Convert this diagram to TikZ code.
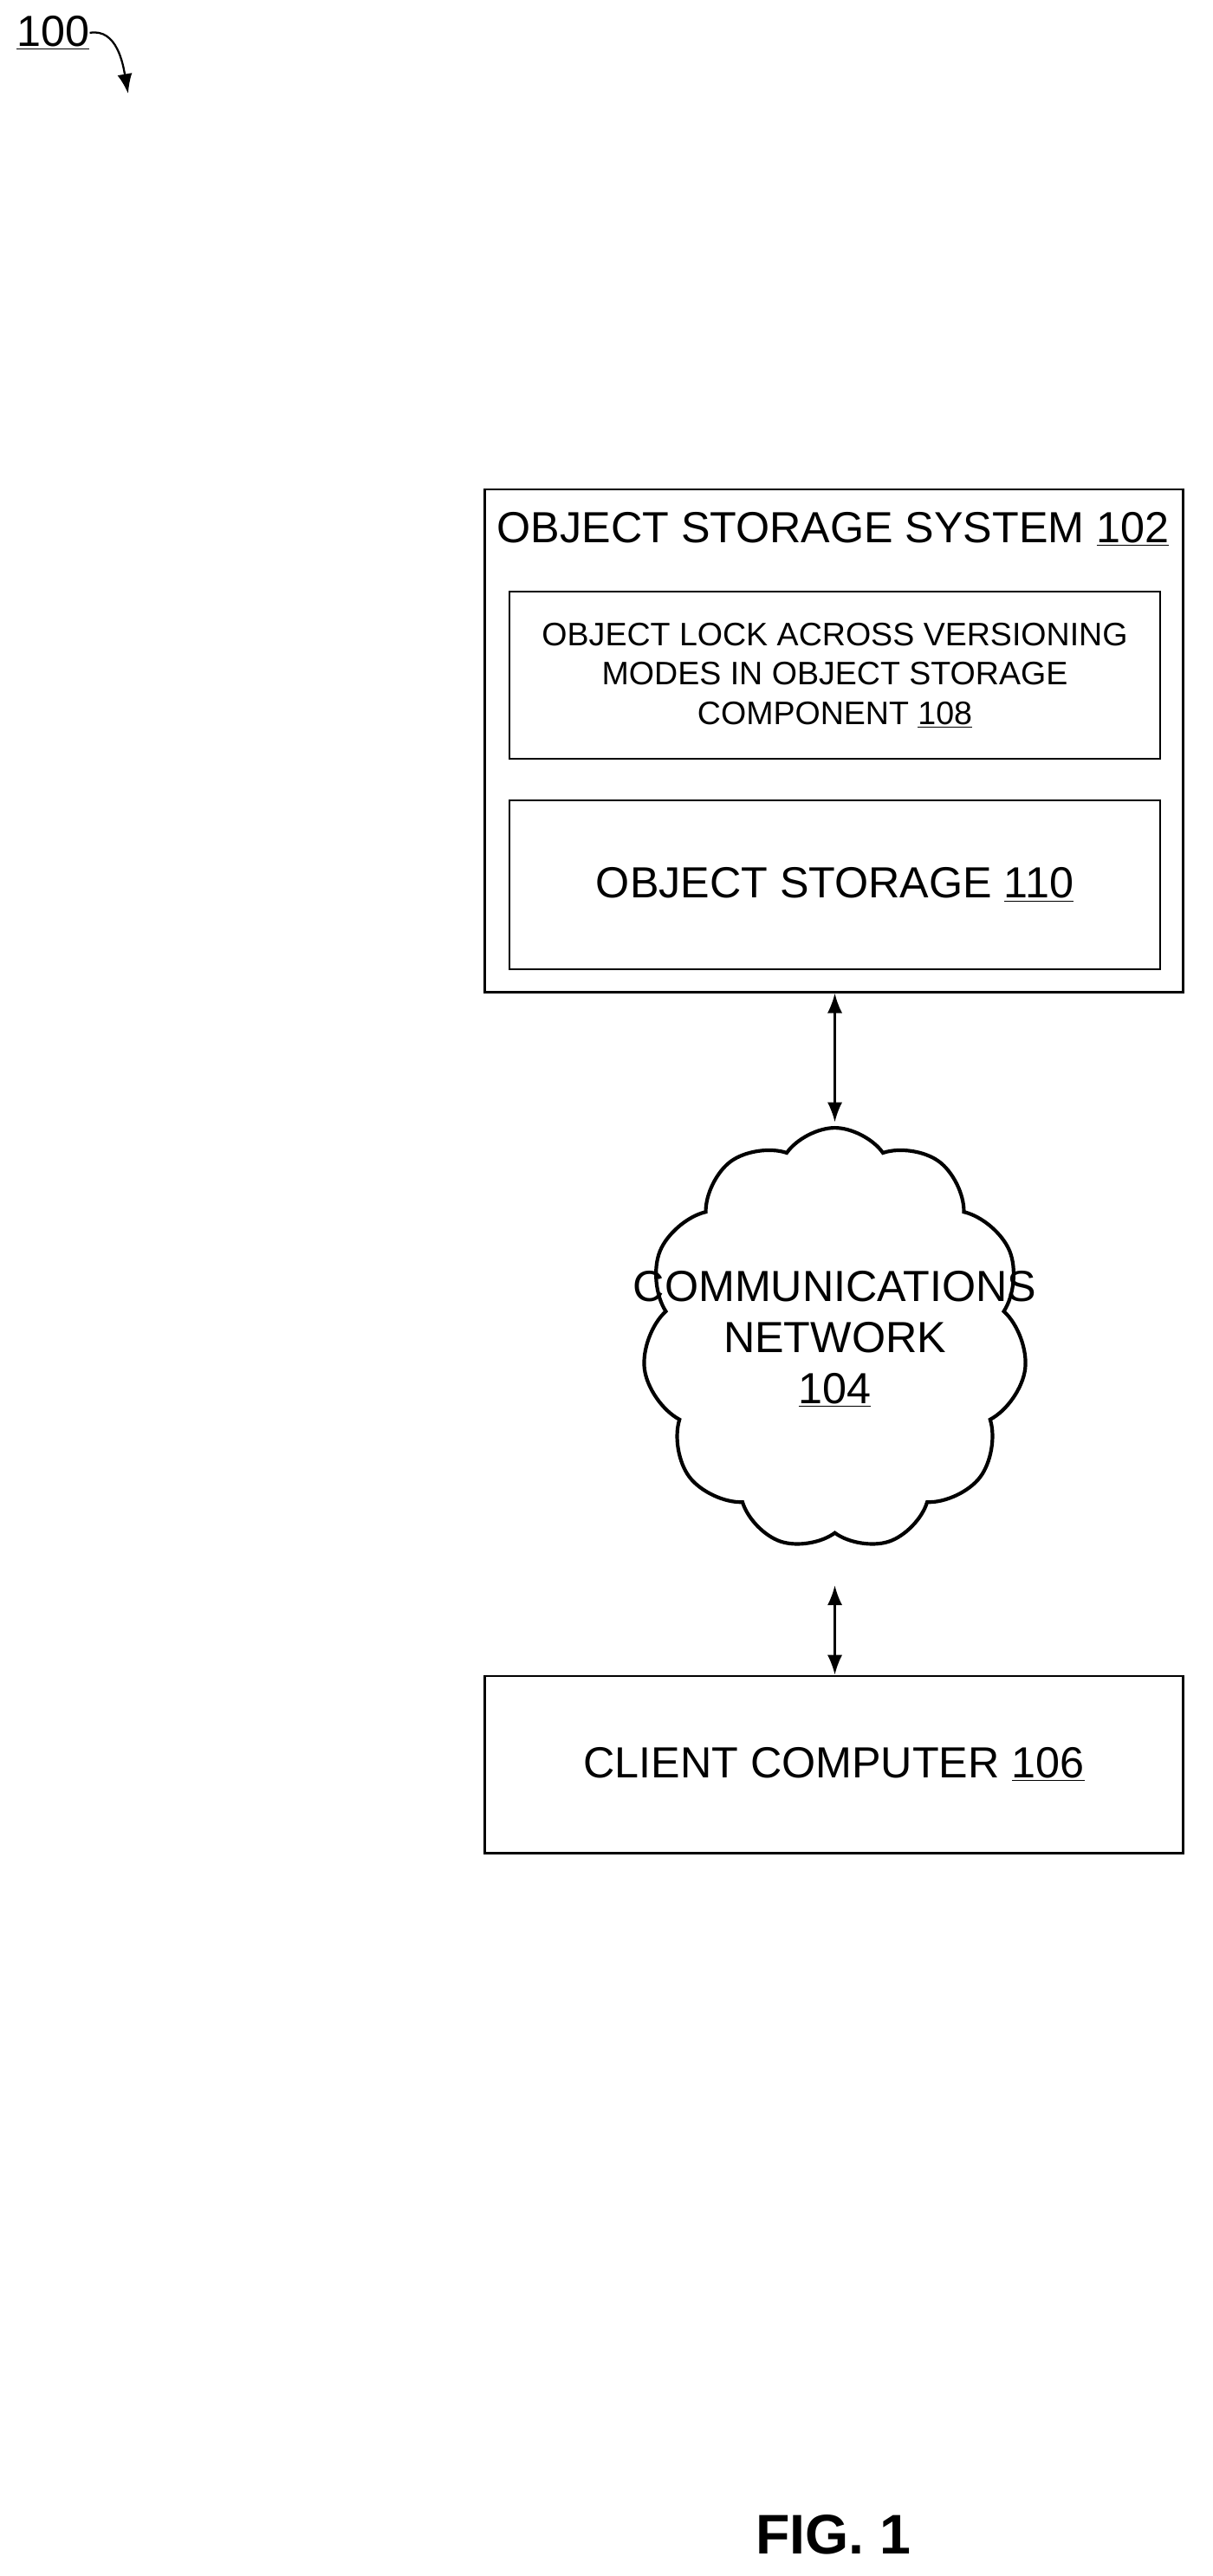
\documentclass[tikz,border=0pt]{standalone}
\usepackage{fontspec}
\setmainfont{Liberation Sans}
\usetikzlibrary{arrows.meta}
\usetikzlibrary{shapes.geometric, shapes.symbols}
\usetikzlibrary{positioning}
\tikzset{
  box/.style={draw, line width=1.2pt, inner sep=0pt},
  link/.style={{Latex[length=12pt,width=9pt]}-{Latex[length=12pt,width=9pt]}, line width=1.2pt},
  big/.style={font=\fontsize{26.5}{31}\selectfont},
  small/.style={font=\fontsize{19.8}{24}\selectfont, align=center},
}
\newcommand{\refnum}[1]{\underline{#1}}
\begin{document}
\begin{tikzpicture}[x=1pt,y=-1pt]
  \useasboundingbox (0,0) rectangle (738,1568);

  \node[big, anchor=west, inner sep=0pt] (fignum) at (10,20) {\refnum{100}};
  \draw[-{Latex[length=12pt,width=9pt]}, line width=1.2pt] (fignum.east) to[out=10,in=100] (78,57);

  \node[box, minimum width=425pt, minimum height=306pt] (oss) at (507.5,451) {};
  \node[big] (osstitle) at (507,322) {OBJECT STORAGE SYSTEM \refnum{102}};
  \node[box, minimum width=396pt, minimum height=102pt, small] (lock) at (508,411)
    {OBJECT LOCK ACROSS VERSIONING\\MODES IN OBJECT STORAGE\\COMPONENT \refnum{108}};
  \node[box, minimum width=396pt, minimum height=103pt, big] (store) at (508,538.5)
    {OBJECT STORAGE \refnum{110}};

  \node[cloud, draw, line width=2.2pt, cloud puffs=11, cloud puff arc=110, aspect=0.93,
    minimum width=234pt, minimum height=257pt, inner sep=0pt] (net) at (508,815) {};
  \node[big, align=center] (nettext) at (508,815) {COMMUNICATIONS\\NETWORK\\\refnum{104}};

  \node[box, minimum width=425pt, minimum height=108pt, big] (client) at (507.5,1074)
    {CLIENT COMPUTER \refnum{106}};

  \draw[link] (oss.south -| 508,0) -- (508,683);
  \draw[link] (508,965) -- (client.north -| 508,0);

  \node[font=\fontsize{34}{40}\selectfont\bfseries] (figlabel) at (507,1543) {FIG. 1};
\end{tikzpicture}
\end{document}
